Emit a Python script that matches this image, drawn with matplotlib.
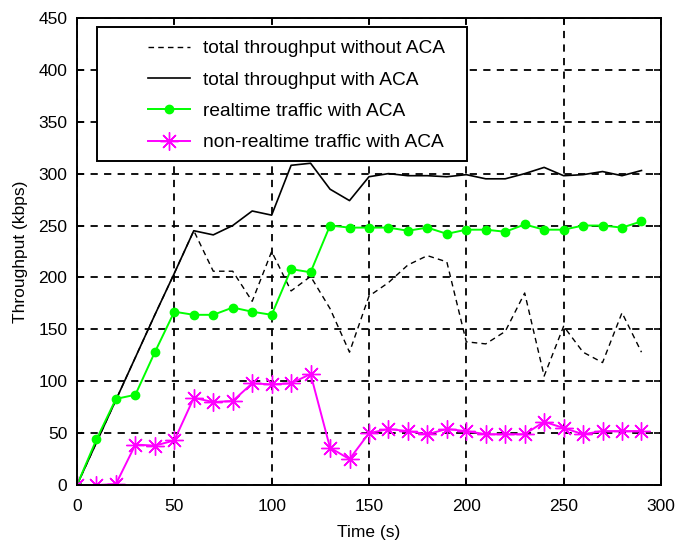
import matplotlib
matplotlib.use("Agg")
import matplotlib.pyplot as plt
from matplotlib.patches import Rectangle

plt.rcParams['font.family'] = ['Liberation Sans', 'DejaVu Sans']

# sample times (s)
t = [0, 10, 20, 30, 40, 50, 60, 70, 80, 90, 100, 110, 120, 130, 140,
     150, 160, 170, 180, 190, 200, 210, 220, 230, 240, 250, 260, 270, 280, 290]

# throughput in kbps
total_without = [0, 41, 82, 123, 164, 204, 245, 206, 206, 177, 225, 187, 201, 170, 128,
                 182, 195, 212, 221, 215, 138, 136, 148, 185, 105, 153, 128, 118, 166, 128]
total_with = [0, 41, 82, 123, 164, 204, 245, 241, 250, 264, 260, 308, 310, 285, 274,
              297, 300, 298, 298, 297, 299, 295, 295, 300, 306, 298, 299, 302, 298, 303]
realtime = [0, 44, 83, 87, 128, 167, 164, 164, 171, 167, 164, 208, 205, 250, 248,
            248, 248, 245, 248, 242, 246, 246, 244, 251, 246, 246, 250, 250, 248, 254]
non_realtime = [0, 0, 1, 39, 38, 43, 84, 80, 81, 98, 97, 98, 107, 36, 25,
                50, 54, 52, 49, 54, 52, 49, 49, 49, 61, 55, 49, 52, 52, 52]

labels = ['total throughput without ACA', 'total throughput with ACA',
          'realtime traffic with ACA', 'non-realtime traffic with ACA']

fig = plt.figure(figsize=(6.79, 5.42), dpi=100)
ax = fig.add_axes([0.1134, 0.105, 0.860, 0.862])

l1, = ax.plot(t, total_without, color='black', lw=1.0, dashes=(4, 3))
l2, = ax.plot(t, total_with, color='black', lw=1.2)
l3, = ax.plot(t, realtime, color='#00ff00', lw=1.4, marker='o', ms=6,
              markeredgecolor='#00ff00')
l4, = ax.plot(t, non_realtime, color='#ff00ff', lw=1.4, marker=(8, 2, 0), ms=13,
              markeredgewidth=1.0)

ax.set_xlim(0, 300)
ax.set_ylim(0, 450)
ax.set_xticks(range(0, 301, 50))
ax.set_yticks(range(0, 451, 50))
ax.grid(True, color='black', lw=1.3, linestyle=(0, (4, 3.5)))
ax.tick_params(direction='in', top=True, right=True, length=5, width=1.2,
               labelsize=12.5)
ax.tick_params(axis='x', pad=10)
ax.tick_params(axis='y', pad=7)
for s in ax.spines.values():
    s.set_linewidth(1.4)

ax.set_xlabel('Time (s)', fontsize=12.5, labelpad=8)
ax.set_ylabel('Throughput (kbps)', fontsize=12.5, labelpad=7)

# legend box drawn separately to get the wide left margin
ax.add_patch(Rectangle((0.034, 0.694), 0.634, 0.287, transform=ax.transAxes,
                       facecolor='white', edgecolor='black', lw=1.4, zorder=5))
leg = ax.legend([l1, l2, l3, l4], labels, loc='upper left',
                bbox_to_anchor=(0.1216, 0.953), frameon=False, fontsize=13.8,
                borderpad=0, borderaxespad=0, handlelength=2.2,
                handletextpad=0.68, labelspacing=0.73)
leg.set_zorder(6)

fig.savefig('out.png', dpi=100)
